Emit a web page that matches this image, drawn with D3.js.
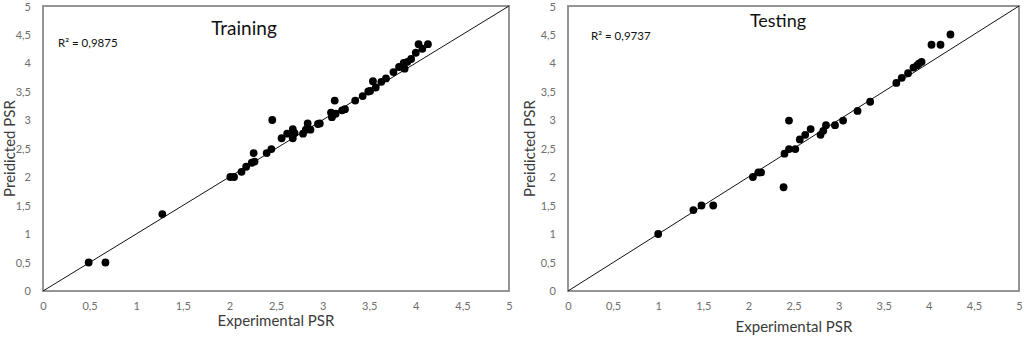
<!DOCTYPE html>
<html>
<head>
<meta charset="utf-8">
<script src="https://cdn.jsdelivr.net/npm/d3@7"></script>
<style>
  body { margin: 0; background: #fff; }
  svg { display: block; }
</style>
</head>
<body>
<svg id="chart" width="1024" height="337"></svg>
<script>
// values
const ticks = [0, 0.5, 1, 1.5, 2, 2.5, 3, 3.5, 4, 4.5, 5];

const trainExp = [0.49, 0.67, 1.28, 2.01, 2.05, 2.13, 2.18, 2.24, 2.26, 2.27, 2.40, 2.45, 2.46, 2.56, 2.62, 2.68, 2.68, 2.70, 2.79, 2.82, 2.84, 2.87, 2.95, 2.97, 3.09, 3.10, 3.13, 3.14, 3.21, 3.24, 3.35, 3.43, 3.49, 3.51, 3.54, 3.57, 3.63, 3.68, 3.76, 3.82, 3.87, 3.88, 3.91, 3.95, 4.00, 4.03, 4.07, 4.13];
const trainPred = [0.50, 0.50, 1.35, 2.00, 2.00, 2.09, 2.18, 2.25, 2.42, 2.27, 2.42, 2.49, 3.00, 2.68, 2.76, 2.84, 2.68, 2.77, 2.76, 2.83, 2.94, 2.83, 2.93, 2.94, 3.13, 3.05, 3.34, 3.11, 3.17, 3.19, 3.34, 3.42, 3.50, 3.51, 3.68, 3.57, 3.67, 3.73, 3.84, 3.93, 4.00, 3.90, 4.02, 4.07, 4.18, 4.33, 4.25, 4.33];

const testExp = [1.00, 1.39, 1.48, 1.61, 2.05, 2.11, 2.14, 2.39, 2.40, 2.45, 2.45, 2.52, 2.57, 2.63, 2.69, 2.80, 2.83, 2.86, 2.96, 3.05, 3.21, 3.35, 3.64, 3.70, 3.77, 3.83, 3.87, 3.89, 3.92, 4.03, 4.13, 4.24];
const testPred = [1.00, 1.42, 1.50, 1.50, 2.00, 2.08, 2.08, 1.82, 2.41, 2.99, 2.49, 2.49, 2.66, 2.74, 2.84, 2.74, 2.81, 2.91, 2.91, 2.99, 3.16, 3.32, 3.65, 3.74, 3.82, 3.92, 3.96, 3.99, 4.02, 4.32, 4.32, 4.50];

const fontFamily = "Lato, 'Open Sans', sans-serif";
const frameColor = "#8a8a8a";
const tickColor = "#6e6e6e";
const titleColor = "#3a3a3a";

const svg = d3.select("#chart");

const fmt = (d) => String(d).replace(".", ",");

function drawPanel(opt) {
  const xScale = d3.scaleLinear([0, 5], [opt.left, opt.right]);
  const yScale = d3.scaleLinear([0, 5], [opt.bottom, opt.top]);
  const g = svg.append("g");

  // frame
  g.append("rect")
    .attr("x", opt.left)
    .attr("y", opt.top)
    .attr("width", opt.right - opt.left)
    .attr("height", opt.bottom - opt.top)
    .attr("fill", "none")
    .attr("stroke", frameColor)
    .attr("stroke-width", 1.8);

  const xAxis = d3.axisBottom(xScale).tickValues(ticks).tickFormat(fmt).tickSize(0).tickPadding(11);
  const yAxis = d3.axisLeft(yScale).tickValues(ticks).tickFormat(fmt).tickSize(0).tickPadding(opt.yPad);

  const gx = g.append("g").attr("transform", `translate(0,${opt.bottom})`).call(xAxis);
  const gy = g.append("g").attr("transform", `translate(${opt.left},0)`).call(yAxis);
  [gx, gy].forEach((a) => {
    a.select(".domain").remove();
    a.selectAll("text")
      .attr("font-family", fontFamily)
      .attr("font-size", 11)
      .attr("fill", tickColor);
  });
  // keep the top "5" inside the picture
  gy.selectAll(".tick").filter((d) => d === 5).select("text").attr("dy", "0.45em");

  // 1:1 line
  g.append("line")
    .attr("x1", xScale(0)).attr("y1", yScale(0))
    .attr("x2", xScale(5)).attr("y2", yScale(5))
    .attr("stroke", "#111")
    .attr("stroke-width", 1);

  const pts = opt.xs.map((x, i) => ({ x: x, y: opt.ys[i] }));
  g.selectAll("circle.pt")
    .data(pts)
    .join("circle")
    .attr("class", "pt")
    .attr("cx", (d) => xScale(d.x))
    .attr("cy", (d) => yScale(d.y))
    .attr("r", 3.9)
    .attr("fill", "#000");

  g.append("text")
    .attr("x", opt.titleX)
    .attr("y", opt.titleY)
    .attr("text-anchor", "middle")
    .attr("font-family", fontFamily)
    .attr("font-size", opt.titleSize)
    .attr("fill", "#111")
    .text(opt.title);

  g.append("text")
    .attr("x", opt.r2X)
    .attr("y", opt.r2Y)
    .attr("font-family", fontFamily)
    .attr("font-size", 11.5)
    .attr("fill", "#111")
    .text(opt.r2);

  g.append("text")
    .attr("x", opt.xTitleX)
    .attr("y", opt.xTitleY)
    .attr("text-anchor", "middle")
    .attr("font-family", fontFamily)
    .attr("font-size", 15)
    .attr("fill", titleColor)
    .text("Experimental PSR");

  g.append("text")
    .attr("transform", `translate(${opt.yTitleX},${(opt.top + opt.bottom) / 2}) rotate(-90)`)
    .attr("text-anchor", "middle")
    .attr("font-family", fontFamily)
    .attr("font-size", 15)
    .attr("fill", titleColor)
    .text("Preidicted PSR");
}

drawPanel({
  left: 43, right: 509, top: 6, bottom: 291, yPad: 12,
  xs: trainExp, ys: trainPred,
  title: "Training", titleX: 244, titleY: 35, titleSize: 19,
  r2: "R² = 0,9875", r2X: 58, r2Y: 47,
  xTitleX: 276, xTitleY: 326,
  yTitleX: 15
});

drawPanel({
  left: 568, right: 1019, top: 6, bottom: 291, yPad: 12,
  xs: testExp, ys: testPred,
  title: "Testing", titleX: 778, titleY: 27, titleSize: 18,
  r2: "R² = 0,9737", r2X: 591, r2Y: 40,
  xTitleX: 794, xTitleY: 332,
  yTitleX: 535
});
</script>
</body>
</html>
